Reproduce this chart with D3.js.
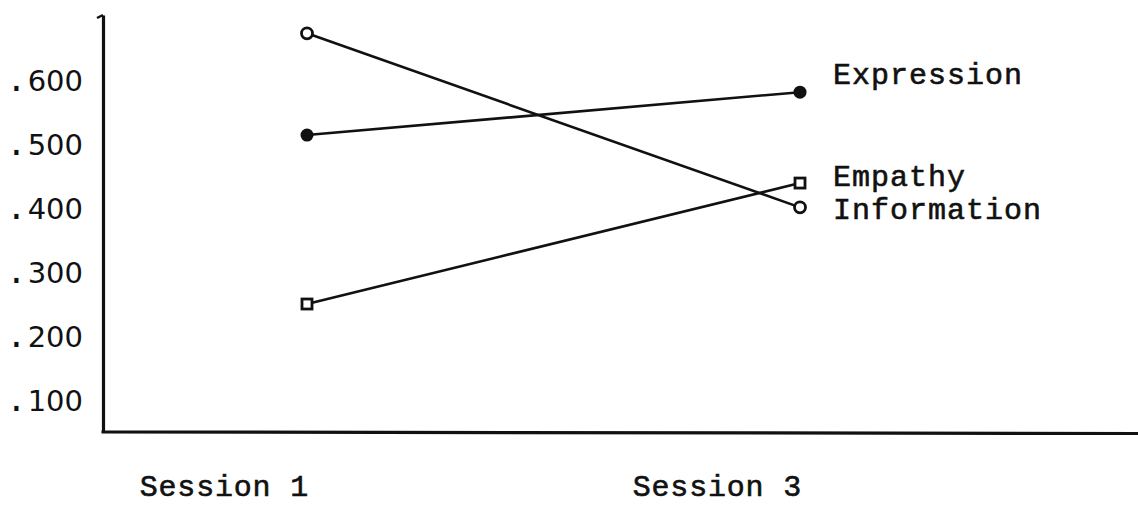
<!DOCTYPE html>
<html>
<head>
<meta charset="utf-8">
<script src="https://cdn.jsdelivr.net/npm/d3@7"></script>
<style>
  html, body { margin: 0; padding: 0; background: #fff; }
  svg { display: block; }
</style>
</head>
<body>
<svg id="chart" width="1138" height="508"></svg>
<script>
// ---- data ----
const categories = ["Session 1", "Session 3"];
const seriesNames = ["Expression", "Empathy", "Information"];
const expression = [0.514, 0.581];
const empathy = [0.250, 0.439];
const information = [0.673, 0.401];
const yTicks = [0.1, 0.2, 0.3, 0.4, 0.5, 0.6];
const yTickLabels = [".100", ".200", ".300", ".400", ".500", ".600"];

// ---- layout ----
const W = 1138, H = 508;
const axisX = 103, axisBottom = 432, axisTop = 15;
const svg = d3.select("#chart");
const ink = "#111";
const mono = "'Liberation Mono', 'Courier New', monospace";

const y = d3.scaleLinear().domain([0.05, 0.7016]).range([axisBottom, axisTop]);
const x = d3.scalePoint().domain(categories).range([307, 800]);

// Y axis
const yAxis = d3.axisLeft(y)
  .tickValues(yTicks)
  .tickFormat((d, i) => yTickLabels[i])
  .tickSize(0)
  .tickPadding(20);
const gy = svg.append("g").attr("transform", `translate(${axisX},0)`).call(yAxis);
gy.select(".domain").attr("stroke", ink).attr("stroke-width", 3.2);
gy.selectAll("text")
  .attr("font-family", "'DejaVu Sans', sans-serif")
  .attr("font-size", 29)
  .attr("fill", ink)
  .attr("dy", "0.35em")
  .each(function () {
    const t = d3.select(this);
    const s = t.text();
    t.text(null);
    t.append("tspan").attr("font-size", 40).text(s.slice(0, 1));
    t.append("tspan").attr("dx", 5).text(s.slice(1));
  });
// small hook at axis top
svg.append("path")
  .attr("d", `M${axisX - 6},${axisTop + 3} L${axisX},${axisTop}`)
  .attr("stroke", ink).attr("stroke-width", 2.5).attr("fill", "none");

// X axis line
svg.append("line")
  .attr("x1", axisX - 1.5).attr("x2", W)
  .attr("y1", y(0.05)).attr("y2", y(0.05) + 1.5)
  .attr("stroke", ink).attr("stroke-width", 3.2);

// X category labels
svg.selectAll(".xlab").data(categories).enter().append("text")
  .attr("class", "xlab")
  .attr("x", d => x(d) + 2)
  .attr("y", 496)
  .attr("text-anchor", "end")
  .attr("font-family", mono)
  .attr("font-size", 30)
  .attr("letter-spacing", 0.8)
  .attr("stroke", ink).attr("stroke-width", 0.6)
  .attr("fill", ink)
  .text(d => d);

// ---- series ----
const series = [
  { name: seriesNames[0], values: expression, marker: "dot", labelDy: -8 },
  { name: seriesNames[1], values: empathy, marker: "square", labelDy: 3 },
  { name: seriesNames[2], values: information, marker: "ring", labelDy: 12 }
];

const line = d3.line().x((d, i) => x(categories[i])).y(d => y(d));

series.forEach(s => {
  svg.append("path")
    .datum(s.values)
    .attr("d", line)
    .attr("fill", "none")
    .attr("stroke", ink)
    .attr("stroke-width", 2.6);

  const g = svg.append("g");
  s.values.forEach((v, i) => {
    const cx = x(categories[i]), cy = y(v);
    if (s.marker === "dot") {
      g.append("circle").attr("cx", cx).attr("cy", cy).attr("r", 6.5).attr("fill", ink);
    } else if (s.marker === "ring") {
      g.append("circle").attr("cx", cx).attr("cy", cy).attr("r", 5.5)
        .attr("fill", "#fff").attr("stroke", ink).attr("stroke-width", 2.8);
    } else {
      g.append("rect").attr("x", cx - 5).attr("y", cy - 5).attr("width", 10).attr("height", 10)
        .attr("fill", "#fff").attr("stroke", ink).attr("stroke-width", 2.8);
    }
  });

  const last = s.values[s.values.length - 1];
  svg.append("text")
    .attr("x", 833)
    .attr("y", y(last) + s.labelDy)
    .attr("font-family", mono)
    .attr("font-size", 30)
    .attr("letter-spacing", 1)
    .attr("stroke", ink).attr("stroke-width", 0.6)
    .attr("fill", ink)
    .text(s.name);
});
</script>
</body>
</html>
